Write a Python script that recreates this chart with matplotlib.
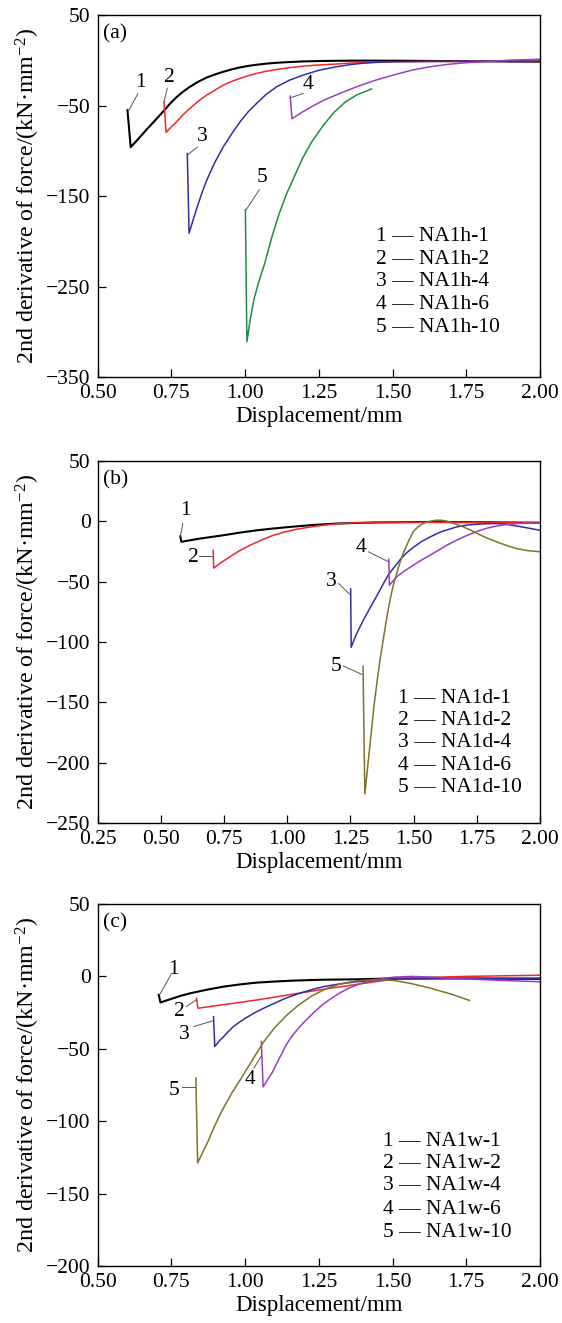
import matplotlib
matplotlib.use("Agg")
import matplotlib.pyplot as plt

plt.rcParams['font.family'] = ['Liberation Serif', 'DejaVu Serif']
plt.rcParams['mathtext.fontset'] = 'custom'
plt.rcParams['mathtext.rm'] = 'Liberation Serif'
plt.rcParams['mathtext.default'] = 'regular'

# ---- data ----
# panel (a)
a1_x = [0.601, 0.612, 0.64, 0.67, 0.70, 0.725, 0.745, 0.768, 0.79, 0.813, 0.84, 0.870, 0.90, 0.926, 0.955, 0.983,
        1.01, 1.039, 1.07, 1.107, 1.15, 1.197, 1.25, 1.31, 1.40, 1.55, 1.70, 1.85, 2.00]
a1_y = [-55, -96, -86, -75, -64.5, -55.5, -48, -40.5, -34.5, -29.2, -23.8, -18.9, -15.4, -12.6, -10, -7.8,
        -6.2, -4.9, -3.7, -2.7, -1.9, -1.2, -0.8, -0.5, -0.3, -0.5, -0.9, -1.2, -1.5]
a2_x = [0.725, 0.732, 0.75, 0.768, 0.79, 0.813, 0.84, 0.869, 0.90, 0.926, 0.955, 0.983, 1.01, 1.039, 1.07, 1.107,
        1.15, 1.197, 1.25, 1.31, 1.36, 1.42, 1.50, 1.60, 1.80, 2.00]
a2_y = [-45.8, -79.7, -73.5, -67.9, -60, -53.1, -45.5, -38.4, -32.5, -27.4, -23.3, -20, -17, -14.5, -12.2, -10.1,
        -8.1, -6.4, -5.1, -4.1, -3, -2.2, -1.6, -1.3, -1.0, -1.2]
a3_x = [0.804, 0.810, 0.823, 0.836, 0.853, 0.870, 0.897, 0.926, 0.955, 0.983, 1.01, 1.039, 1.07, 1.107, 1.15,
        1.197, 1.25, 1.31, 1.36, 1.40, 1.45, 1.50, 1.70, 1.85, 2.00]
a3_y = [-103, -191, -177, -163.6, -147, -132.3, -113, -95.5, -81, -67.9, -57, -47.6, -38, -29.2, -22,
        -16.3, -11, -7.1, -4.6, -3.2, -2.2, -1.6, -1.0, -1.0, -1.0]
a4_x = [1.153, 1.159, 1.19, 1.226, 1.27, 1.323, 1.38, 1.445, 1.50, 1.567, 1.63, 1.689, 1.75, 1.811, 1.90, 2.00]
a4_y = [-39.5, -64.5, -58, -51.1, -43.5, -36.4, -29, -21.7, -16.5, -10.7, -7, -4.4, -2.6, -1.5, 0.2, 1.2]
a5_x = [1.001, 1.006, 1.018, 1.030, 1.048, 1.067, 1.09, 1.116, 1.14, 1.165, 1.195, 1.226, 1.265, 1.30, 1.34,
        1.38, 1.429]
a5_y = [-165, -311, -285, -264, -243, -224, -196, -169, -148, -130, -108, -90, -72, -58, -46,
        -38, -31.6]
a_names = ['NA1h-1', 'NA1h-2', 'NA1h-4', 'NA1h-6', 'NA1h-10']

# panel (b)
b1_x = [0.577, 0.581, 0.62, 0.65, 0.70, 0.747, 0.81, 0.879, 0.945, 1.011, 1.10, 1.195, 1.27, 1.35, 1.55, 1.75, 2.00]
b1_y = [-12.5, -17, -15.6, -14.5, -13, -11.6, -9.5, -7.5, -6, -4.7, -3.1, -1.9, -1.4, -1.0, -0.6, -0.8, -1.2]
b2_x = [0.707, 0.709, 0.74, 0.773, 0.81, 0.852, 0.90, 0.945, 0.99, 1.037, 1.09, 1.142, 1.208, 1.28, 1.35, 1.55,
        1.75, 2.00]
b2_y = [-24.2, -38.8, -34, -29.5, -24.5, -19.9, -15.4, -11.6, -8.9, -6.6, -4.8, -3.3, -1.9, -1.3, -1.0, -0.8,
        -1.0, -1.4]
b3_x = [1.251, 1.253, 1.265, 1.275, 1.288, 1.301, 1.318, 1.335, 1.35, 1.367, 1.385, 1.40, 1.418, 1.433, 1.45,
        1.473, 1.50, 1.53, 1.565, 1.61, 1.67, 1.71, 1.75, 1.79, 1.83, 1.87, 1.91, 1.955, 2.00]
b3_y = [-56, -104.5, -98, -93, -87.5, -82, -75.5, -69, -63.5, -57, -50, -44.5, -39.5, -35.5, -31,
        -26, -21.5, -17, -13, -8.6, -4.7, -3.2, -2.5, -2.0, -1.9, -2.6, -4, -5.7, -7.5]
b4_x = [1.402, 1.404, 1.433, 1.465, 1.499, 1.53, 1.565, 1.60, 1.631, 1.665, 1.697, 1.73, 1.763, 1.795, 1.829,
        1.87, 1.907, 1.95, 2.00]
b4_y = [-31.5, -53, -46, -41, -36.4, -32.3, -28.1, -23.8, -19.9, -16.2, -13, -10.1, -7.5, -5.5, -3.9,
        -2.7, -1.9, -1.6, -1.5]
b5_x = [1.300, 1.307, 1.315, 1.324, 1.335, 1.345, 1.356, 1.367, 1.377, 1.386, 1.398, 1.41, 1.422, 1.435, 1.447,
        1.46, 1.48, 1.499, 1.518, 1.537, 1.56, 1.59, 1.61, 1.63, 1.66, 1.697, 1.73, 1.76, 1.795, 1.829, 1.87,
        1.907, 1.95, 2.00]
b5_y = [-120, -226, -210, -192, -170, -150, -132, -115, -102, -90, -75, -62, -51, -42, -33.5,
        -26, -16.5, -8.5, -4.5, -1.9, -0.2, 0.9, 0.8, 0.2, -1.8, -4.7, -7.8, -11, -14.3, -17.1, -20.2,
        -22.6, -24.3, -25.3]
b_names = ['NA1d-1', 'NA1d-2', 'NA1d-4', 'NA1d-6', 'NA1d-10']

# panel (c)
c1_x = [0.707, 0.713, 0.75, 0.78, 0.813, 0.87, 0.926, 0.98, 1.039, 1.095, 1.152, 1.21, 1.265, 1.378, 1.50, 1.65,
        1.80, 2.00]
c1_y = [-12.7, -18, -15.5, -13.5, -11.7, -9.2, -7.1, -5.6, -4.3, -3.6, -3.0, -2.6, -2.3, -2.0, -1.4, -1.3,
        -1.5, -1.7]
c2_x = [0.835, 0.840, 1.039, 1.265, 1.457, 1.55, 1.75, 2.00]
c2_y = [-15.1, -22, -16.3, -8.9, -3.2, -1.0, 0, 0.8]
c3_x = [0.893, 0.897, 0.913, 0.93, 0.945, 0.96, 0.98, 1.00, 1.02, 1.039, 1.07, 1.10, 1.125, 1.152, 1.19, 1.23,
        1.265, 1.32, 1.378, 1.44, 1.50, 1.70, 2.00]
c3_y = [-27.8, -48.4, -44.5, -41, -37.7, -34.7, -31.7, -29, -26.6, -24.4, -21.3, -18.5, -16.2, -14, -11.3, -8.9,
        -7.1, -5.2, -3.7, -2.6, -1.9, -1.5, -1.2]
c4_x = [1.055, 1.061, 1.075, 1.091, 1.105, 1.12, 1.14, 1.16, 1.18, 1.20, 1.23, 1.263, 1.29, 1.323, 1.35, 1.38,
        1.41, 1.445, 1.475, 1.506, 1.567, 1.63, 1.689, 1.78, 1.872, 2.00]
c4_y = [-45, -76.3, -71.8, -66.7, -61, -55, -47, -41, -36, -31.5, -25.5, -19.5, -15.5, -11.2, -8.3, -5.8,
        -4, -2.5, -1.3, -0.5, 0, -0.5, -1.2, -2, -2.8, -3.7]
c5_x = [0.833, 0.839, 0.855, 0.872, 0.895, 0.921, 0.955, 0.994, 1.03, 1.062, 1.10, 1.14, 1.18, 1.226, 1.275,
        1.323, 1.38, 1.45, 1.506, 1.56, 1.628, 1.70, 1.761]
c5_y = [-70.2, -128.8, -122, -115, -104, -93, -80.5, -68, -56, -45.5, -35.5, -27, -20, -13.5, -8.5,
        -5.2, -3, -2, -2.9, -4.8, -8.1, -12.3, -16.6]
c_names = ['NA1w-1', 'NA1w-2', 'NA1w-4', 'NA1w-6', 'NA1w-10']

x_ticks = [0.50, 0.75, 1.00, 1.25, 1.50, 1.75, 2.00]
b_x_ticks = [0.25, 0.50, 0.75, 1.00, 1.25, 1.50, 1.75, 2.00]
a_y_ticks = [50, -50, -150, -250, -350]
b_y_ticks = [50, 0, -50, -100, -150, -200, -250]
c_y_ticks = [50, 0, -50, -100, -150, -200]

# ---- styles / layout ----
fs = 15.5
gray = '#555555'
col_a = ['black', '#f02828', '#2e2ea8', '#9a3cc0', '#1e8c44']
col_b = ['black', '#f02828', '#2e2ea8', '#9a3cc0', '#807228']
col_c = col_b

# (text x, text y, leader start, leader end) in data coords
ann_a = [(0.644, -24, (0.636, -37), (0.606, -55)),
         (0.742, -19, (0.736, -31), (0.725, -45.8)),
         (0.856, -84, (0.838, -96), (0.806, -104)),
         (1.213, -27, (1.197, -36.5), (1.158, -41)),
         (1.058, -129, (1.048, -143), (1.004, -165))]
ann_b = [(0.596, 9, (0.587, -1.8), (0.577, -12.5)),
         (0.627, -30, (0.650, -28.9), (0.705, -28.9)),
         (1.175, -50, (1.203, -51.5), (1.25, -61)),
         (1.293, -22, (1.321, -25.3), (1.40, -33.5)),
         (1.193, -120, (1.222, -120), (1.296, -127))]
ann_c = [(0.756, 5, (0.748, 1), (0.710, -12.7)),
         (0.776, -24, (0.801, -20.8), (0.835, -16.2)),
         (0.794, -40, (0.826, -34.6), (0.890, -30.7)),
         (1.015, -71, (1.030, -63.3), (1.055, -55)),
         (0.760, -79, (0.787, -76.6), (0.829, -76.6))]

fig = plt.figure(figsize=(5.62, 13.23), dpi=100)
left, width, height = 0.1738, 0.787, 0.2736
bottoms = [0.715, 0.378, 0.0431]

panels = [
    ('(a)', [(a1_x, a1_y), (a2_x, a2_y), (a3_x, a3_y), (a4_x, a4_y), (a5_x, a5_y)], a_names, col_a,
     ann_a, (0.5, 2.0), (-350, 50), x_ticks, a_y_ticks, 0.63, [0.389, 0.326, 0.264, 0.200, 0.136]),
    ('(b)', [(b1_x, b1_y), (b2_x, b2_y), (b3_x, b3_y), (b4_x, b4_y), (b5_x, b5_y)], b_names, col_b,
     ann_b, (0.25, 2.0), (-250, 50), b_x_ticks, b_y_ticks, 0.679, [0.345, 0.283, 0.221, 0.159, 0.097]),
    ('(c)', [(c1_x, c1_y), (c2_x, c2_y), (c3_x, c3_y), (c4_x, c4_y), (c5_x, c5_y)], c_names, col_c,
     ann_c, (0.5, 2.0), (-200, 50), x_ticks, c_y_ticks, 0.646, [0.345, 0.283, 0.221, 0.157, 0.093]),
]

for i, (tag, curves, names, cols, anns, xl, yl, xt, yt, lx, ly) in enumerate(panels):
    ax = fig.add_axes([left, bottoms[i], width, height])
    for k, (xs, ys) in enumerate(curves):
        ax.plot(xs, ys, color=cols[k], lw=1.5 if k == 0 else 1.1, solid_joinstyle='round')
    for k, (tx, ty, p0, p1) in enumerate(anns):
        ax.plot([p0[0], p1[0]], [p0[1], p1[1]], color=gray, lw=0.7)
        ax.text(tx, ty, str(k + 1), fontsize=fs, ha='center', va='center')
    for k, name in enumerate(names):
        ax.text(lx, ly[k], '%d — %s' % (k + 1, name), transform=ax.transAxes,
                fontsize=fs, ha='left', va='center')
    ax.text(0.013, 0.975, tag, transform=ax.transAxes, fontsize=fs, ha='left', va='top')
    ax.set_xlim(*xl)
    ax.set_ylim(*yl)
    ax.set_xticks(xt)
    ax.set_xticklabels(['%.2f' % v for v in xt])
    ax.set_yticks(yt)
    ax.set_yticklabels([('\u2212%d' % -v) if v < 0 else '%d' % v for v in yt])
    ax.tick_params(direction='in', length=5.5, width=0.9, labelsize=fs, top=False, right=False, pad=5)
    for s in ax.spines.values():
        s.set_linewidth(1.0)
    ax.set_xlabel('Displacement/mm', fontsize=16.5, labelpad=2)
    ax.set_ylabel('2nd derivative of force/(kN\u00b7mm$^{\u22122}$)', fontsize=17.3, labelpad=3)

fig.savefig('out.png', dpi=100)
